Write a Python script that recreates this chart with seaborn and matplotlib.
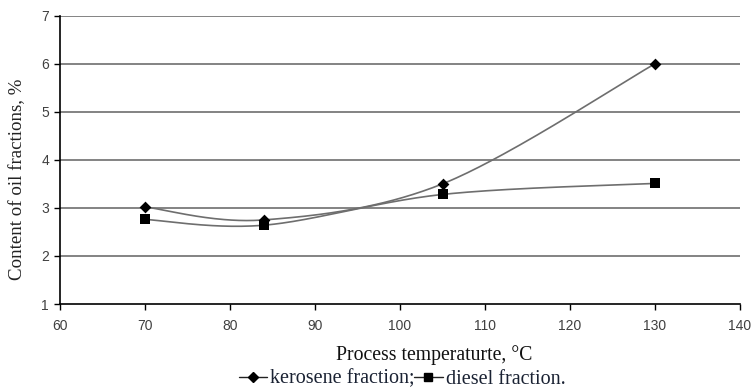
import numpy as np
import pandas as pd
import matplotlib
matplotlib.use("Agg")
import matplotlib.pyplot as plt
import seaborn as sns
from matplotlib.lines import Line2D

# ---- data ----
temperature = [70, 84, 105, 130]
kerosene = [3.02, 2.75, 3.50, 6.00]
diesel = [2.76, 2.64, 3.28, 3.51]
series_names = ["kerosene fraction;", "diesel fraction."]
x_ticks = [60, 70, 80, 90, 100, 110, 120, 130, 140]
y_ticks = [1, 2, 3, 4, 5, 6, 7]


def excel_smooth(xs, ys, n=60):
    """Catmull-Rom style Bezier smoothing like spreadsheet 'smoothed line'."""
    P = np.column_stack([xs, ys]).astype(float)
    pts = np.vstack([P[0], P, P[-1]])
    out = []
    t = np.linspace(0, 1, n)[:, None]
    for i in range(1, len(pts) - 2):
        p0, p1, p2, p3 = pts[i - 1], pts[i], pts[i + 1], pts[i + 2]
        c1 = p1 + (p2 - p0) / 6.0
        c2 = p2 - (p3 - p1) / 6.0
        seg = ((1 - t) ** 3) * p1 + 3 * ((1 - t) ** 2) * t * c1 + 3 * (1 - t) * t ** 2 * c2 + t ** 3 * p2
        out.append(seg if i == 1 else seg[1:])
    out = np.vstack(out)
    return out[:, 0], out[:, 1]


sns.set_theme(style="white")
plt.rcParams["font.family"] = ["Liberation Sans", "DejaVu Sans"]

fig = plt.figure(figsize=(7.52, 3.89), dpi=100)
ax = fig.add_axes([60 / 752, 1 - 304 / 389, 680 / 752, (304 - 15.7) / 389])

line_color = "#6e6e6e"
grid_color = "#7a7a7a"

for y in y_ticks[1:]:
    ax.axhline(y, color=grid_color, lw=1.3, zorder=0)

for vals, marker, ms in [(kerosene, "D", 6), (diesel, "s", 7)]:
    sx, sy = excel_smooth(temperature, vals)
    smooth_df = pd.DataFrame({"x": sx, "y": sy})
    sns.lineplot(data=smooth_df, x="x", y="y", ax=ax, color=line_color, lw=1.2,
                 sort=False, estimator=None, zorder=2)
    pts_df = pd.DataFrame({"x": temperature, "y": vals})
    sns.scatterplot(data=pts_df, x="x", y="y", ax=ax, marker=marker, s=ms ** 2,
                    color="black", edgecolor="black", linewidth=0, zorder=3)

ax.set_xlim(60, 140)
ax.set_ylim(1, 7)
ax.set_xticks(x_ticks)
ax.set_yticks(y_ticks)
ax.tick_params(axis="both", labelsize=10, colors="black", labelcolor="#404040",
               length=4, width=1, direction="out", left=True, bottom=True)
ax.tick_params(axis="x", pad=7)
ax.tick_params(axis="y", pad=4)
for s in ["top", "right"]:
    ax.spines[s].set_visible(False)
for s in ["left", "bottom"]:
    ax.spines[s].set_color("black")
    ax.spines[s].set_linewidth(1.2)

ax.set_xlabel("")
ax.set_ylabel("")
fig.text(18 / 752, 1 - 179 / 389, "Content of oil fractions, %", rotation=90,
         ha="center", va="center", fontsize=13.6, family="Liberation Serif", color="#222222")
fig.text(434 / 752, 1 - 355 / 389, "Process temperaturte, °C",
         ha="center", va="center", fontsize=14.2, family="Liberation Serif", color="#111111")

handles = [
    Line2D([], [], color="#222222", lw=1, marker="D", markersize=5, markerfacecolor="black", markeredgecolor="black"),
    Line2D([], [], color="#222222", lw=1, marker="s", markersize=6, markerfacecolor="black", markeredgecolor="black"),
]
fig.legend(handles, series_names, loc="center", bbox_to_anchor=(402 / 752, 1 - 379 / 389),
           ncol=2, frameon=False, handlelength=1.4, handletextpad=0.15, columnspacing=0.0,
           prop={"family": "Liberation Serif", "size": 14.5}, labelcolor="#1a2233", borderpad=0)

fig.savefig("out.png", dpi=100)
